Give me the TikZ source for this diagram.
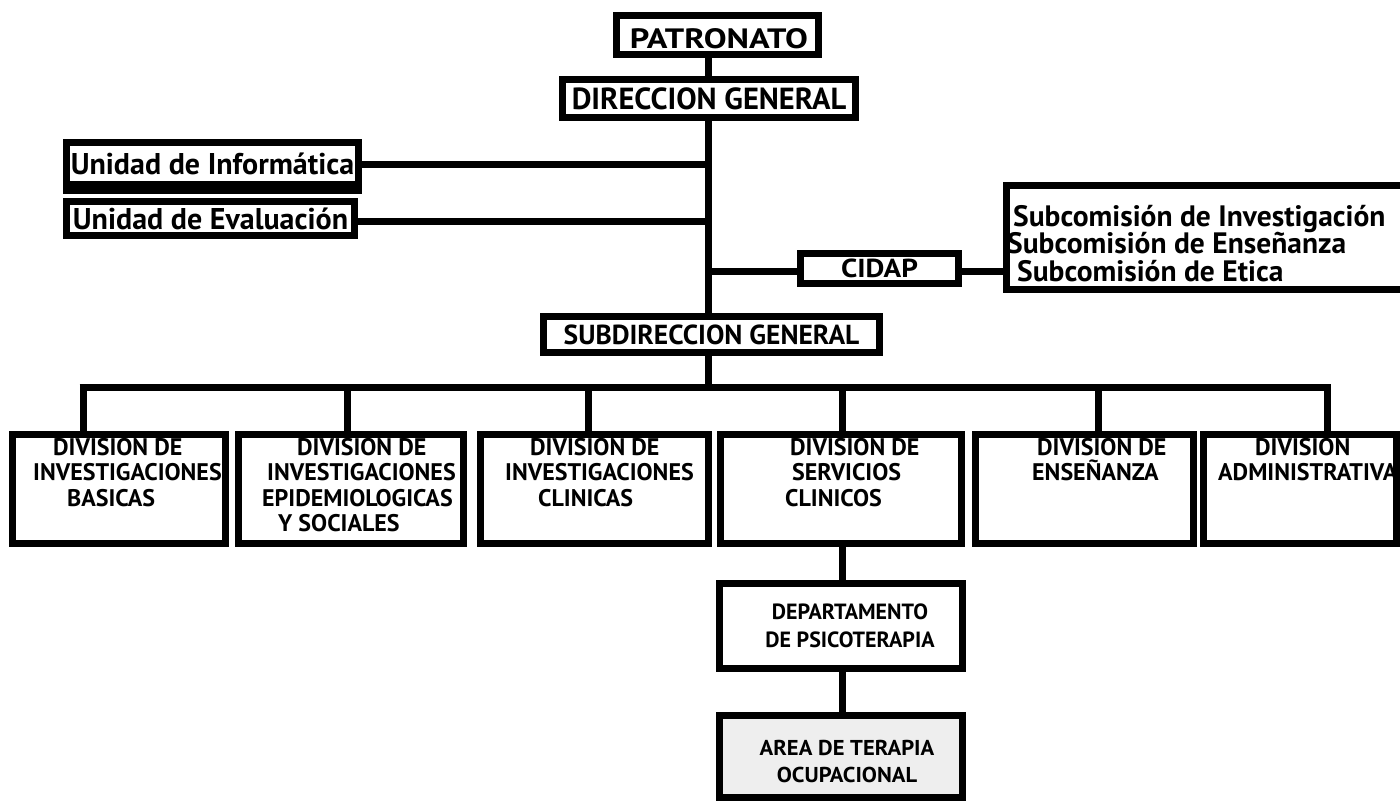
\documentclass[tikz,border=0pt]{standalone}
\usepackage{fontspec}
\setmainfont{PT Sans}
\begin{document}
\begin{tikzpicture}[x=1pt,y=-1pt,
  box/.style={draw,line width=7pt,fill=white,inner sep=0pt},
  conn/.style={line width=7pt},
  divtxt/.style={inner sep=0pt,font=\bfseries\fontsize{24}{25.5}\selectfont,align=left,anchor=north west},
  subtxt/.style={anchor=base west,inner sep=0pt,font=\bfseries\fontsize{29.5}{29}\selectfont},
]
\clip (0,0) rectangle (1400,807);
\fill[white] (0,0) rectangle (1400,807);
% trunk and bar coordinates
\coordinate (t) at (708,0);
\coordinate (b1) at (83,387);
\coordinate (b2) at (347,387);
\coordinate (b3) at (588,387);
\coordinate (b4) at (842,387);
\coordinate (b5) at (1098,387);
\coordinate (b6) at (1327,387);

% top nodes
\node[box,minimum width=202pt,minimum height=39pt] (pat) at (717.5,34.5) {};
\node[inner sep=0pt,font=\bfseries\fontsize{28}{28}\selectfont] (patt) at (719,39) {\scalebox{1.22}[1]{PATRONATO}};
\node[box,minimum width=293pt,minimum height=38pt,font=\bfseries\fontsize{30.5}{31}\selectfont] (dir) at (709,98.5) {DIRECCION GENERAL};
\node[box,minimum width=292pt,minimum height=42pt,font=\bfseries\fontsize{30}{30}\selectfont] (ui) at (212.5,163.5) {Unidad de Informática};
\fill (ui.south west) rectangle ([yshift=-6pt]ui.south east);
\node[box,minimum width=288pt,minimum height=34pt,font=\bfseries\fontsize{30}{30}\selectfont] (ue) at (210.5,218.5) {Unidad de Evaluación};
\node[box,minimum width=158pt,minimum height=30pt,font=\bfseries\fontsize{26}{26}\selectfont] (cidap) at (879.5,268.5) {\scalebox{1.12}[1]{CIDAP}};
\node[box,minimum width=413pt,minimum height=104pt] (subcom) at (1213,237.5) {};
\node[box,minimum width=336pt,minimum height=36pt,font=\bfseries\fontsize{27.5}{28}\selectfont] (sub) at (711.5,334.5) {SUBDIRECCION GENERAL};

% divisions
\node[box,minimum width=213pt,minimum height=109pt] (d1) at (119,489) {};
\node[box,minimum width=225pt,minimum height=109pt] (d2) at (351,489) {};
\node[box,minimum width=228pt,minimum height=109pt] (d3) at (594.5,489) {};
\node[box,minimum width=241pt,minimum height=109pt] (d4) at (841,489) {};
\node[box,minimum width=218pt,minimum height=109pt] (d5) at (1084.5,489) {};
\node[box,minimum width=193pt,minimum height=109pt] (d6) at (1300,489) {};

\node[box,minimum width=243pt,minimum height=85pt] (dep) at (841,626) {};
\node[box,fill=gray!13,minimum width=243pt,minimum height=82pt] (area) at (841,756) {};

% box texts
\node[align=center,inner sep=0pt,font=\bfseries\fontsize{22}{28}\selectfont] (dept) at (850,626) {DEPARTAMENTO\\DE PSICOTERAPIA};
\node[align=center,inner sep=0pt,font=\bfseries\fontsize{21.5}{27}\selectfont] (areat) at (847,762) {\scalebox{1.05}[1]{AREA DE TERAPIA}\\\scalebox{1.05}[1]{OCUPACIONAL}};

% subcommission texts
\node[subtxt] (sc1) at (1013,226) {Subcomisión de Investigación};
\node[subtxt] (sc2) at (1007,253.5) {Subcomisión de Enseñanza};
\node[subtxt] (sc3) at (1017,281) {Subcomisión de Etica};

% division texts
\node[divtxt] (t1) at (33,438) {\hspace*{20pt}DIVISION DE\\INVESTIGACIONES\\\hspace*{34pt}BASICAS};
\node[divtxt] (t2) at (262,438) {\hspace*{35pt}DIVISION DE\\\hspace*{5pt}INVESTIGACIONES\\EPIDEMIOLOGICAS\\\hspace*{16pt}Y SOCIALES};
\node[divtxt] (t3) at (505,438) {\hspace*{25pt}DIVISION DE\\INVESTIGACIONES\\\hspace*{33pt}CLINICAS};
\node[divtxt] (t4) at (785,438) {\hspace*{5pt}DIVISION DE\\\hspace*{7pt}SERVICIOS\\CLINICOS};
\node[divtxt] (t5) at (1032,438) {\hspace*{5pt}DIVISION DE\\ENSEÑANZA};
\node[divtxt] (t6) at (1218,438) {\hspace*{37pt}DIVISION\\ADMINISTRATIVA};

% connectors
\begin{scope}[conn]
\draw (pat.south -| t) -- (dir.north -| t);
\draw (dir.south -| t) -- (sub.north -| t);
\draw ([yshift=-1pt]ui.east) -- ([yshift=-1pt]ui.east -| t);
\draw ([yshift=-3pt]ue.east) -- ([yshift=-3pt]ue.east -| t);
\draw ([yshift=-3pt]cidap.west -| t) -- ([yshift=-3pt]cidap.west);
\draw ([yshift=-3pt]cidap.east) -- ([yshift=-3pt]cidap.east -| subcom.west);
\draw (sub.south -| t) -- (t |- b1);
\draw ([xshift=-3.5pt]b1) -- ([xshift=3.5pt]b6);
\draw (b1) -- (d1.north -| b1);
\draw (b2) -- (d2.north -| b2);
\draw (b3) -- (d3.north -| b3);
\draw (b4) -- (d4.north -| b4);
\draw (b5) -- (d5.north -| b5);
\draw (b6) -- (d6.north -| b6);
\draw (d4.south -| b4) -- (dep.north -| b4);
\draw (dep.south -| b4) -- (area.north -| b4);
\end{scope}
\end{tikzpicture}
\end{document}
